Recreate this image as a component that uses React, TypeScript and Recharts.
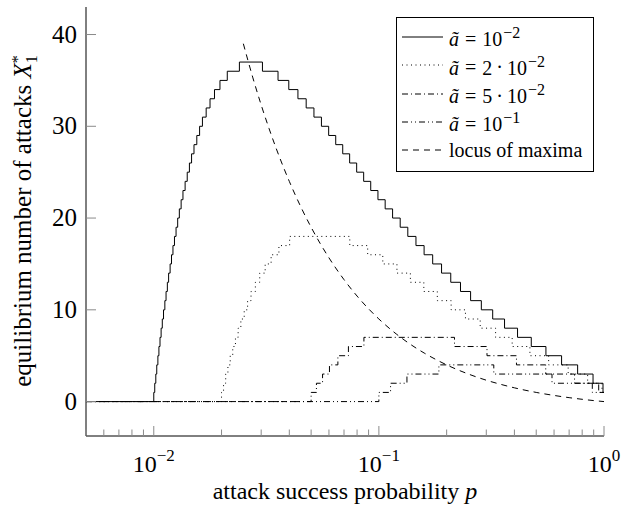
import { LineChart, Line, XAxis, YAxis } from 'recharts'

// ã = 10^-2 : breakpoints (p where X* takes the new value)
const P_A1 = [
  0.005, 0.01, 0.0101, 0.01021, 0.01031, 0.01043, 0.01054, 0.01066, 0.01078, 0.01091, 0.01105,
  0.0112, 0.01134, 0.01149, 0.01164, 0.01182, 0.01199, 0.01217, 0.01236, 0.01256, 0.01277,
  0.01299, 0.01323, 0.01348, 0.01378, 0.01408, 0.0144, 0.01472, 0.01509, 0.01553, 0.01598,
  0.01645, 0.01709, 0.01778, 0.01861, 0.01968, 0.02121, 0.02401,
  0.03039, 0.03564, 0.03979, 0.04369, 0.04754, 0.05147, 0.05556, 0.05983, 0.06431, 0.06908,
  0.07416, 0.07967, 0.08559, 0.092, 0.09905, 0.10663, 0.11505, 0.12436, 0.13442, 0.14611,
  0.1588, 0.17336, 0.18985, 0.20859, 0.23041, 0.25553, 0.28517, 0.32032, 0.36155, 0.41298,
  0.47524, 0.55213, 0.64799, 0.76362, 0.894, 0.9899, 1,
]
const X_A1 = [
  0, 1, 2, 3, 4, 5, 6, 7, 8, 9, 10,
  11, 12, 13, 14, 15, 16, 17, 18, 19, 20,
  21, 22, 23, 24, 25, 26, 27, 28, 29, 30,
  31, 32, 33, 34, 35, 36, 37,
  36, 35, 34, 33, 32, 31, 30, 29, 28, 27,
  26, 25, 24, 23, 22, 21, 20, 19, 18, 17,
  16, 15, 14, 13, 12, 11, 10, 9, 8, 7,
  6, 5, 4, 3, 2, 1, 1,
]

// ã = 2·10^-2
const P_A2 = [
  0.005, 0.02, 0.02042, 0.02087, 0.02135, 0.02186, 0.02243, 0.02306, 0.0237, 0.02437, 0.02522,
  0.02611, 0.02704, 0.02827, 0.02956, 0.03125, 0.03321, 0.03597, 0.04014,
  0.07426, 0.08917, 0.10407, 0.12029, 0.138, 0.15834, 0.18178, 0.20943, 0.24239, 0.28186,
  0.32999, 0.39096, 0.46867, 0.56765, 0.69325, 0.846, 0.9796, 1,
]
const X_A2 = [
  0, 1, 2, 3, 4, 5, 6, 7, 8, 9, 10,
  11, 12, 13, 14, 15, 16, 17, 18,
  17, 16, 15, 14, 13, 12, 11, 10, 9, 8,
  7, 6, 5, 4, 3, 2, 1, 1,
]

// ã = 5·10^-2
const P_A5 = [0.005, 0.05, 0.05279, 0.05621, 0.06032, 0.06575, 0.07322, 0.0858, 0.21669, 0.30218, 0.40846, 0.551, 0.74, 0.9472, 1]
const X_A5 = [0, 1, 2, 3, 4, 5, 6, 7, 6, 5, 4, 3, 2, 1, 1]

// ã = 10^-1
const P_A10 = [0.005, 0.1, 0.1127, 0.13325, 0.18472, 0.32389, 0.5875, 0.8873, 1]
const X_A10 = [0, 1, 2, 3, 4, 3, 2, 1, 1]

// locus of maxima
const LOCUS_P = [
  0.025, 0.0275, 0.03, 0.0325, 0.035, 0.04, 0.045, 0.05, 0.055, 0.06, 0.07, 0.08, 0.09, 0.1,
  0.12, 0.14, 0.16, 0.18, 0.2, 0.25, 0.3, 0.35, 0.4, 0.5, 0.6, 0.7, 0.8, 0.9, 1,
]
const LOCUS_X = [
  39, 35.36, 32.33, 29.77, 27.57, 24, 21.22, 19, 17.18, 15.67, 13.29, 11.5, 10.11, 9,
  7.33, 6.14, 5.25, 4.56, 4, 3, 2.33, 1.86, 1.5, 1, 0.67, 0.43, 0.25, 0.11, 0,
]

const X_MAJOR = [0.01, 0.1, 1]
const X_MAJOR_EXP = ['−2', '−1', '0']
const X_MINOR = [
  0.005, 0.006, 0.007, 0.008, 0.009,
  0.02, 0.03, 0.04, 0.05, 0.06, 0.07, 0.08, 0.09,
  0.2, 0.3, 0.4, 0.5, 0.6, 0.7, 0.8, 0.9,
]
const Y_TICKS = [0, 10, 20, 30, 40]

const X_TICKS = [...X_MINOR, ...X_MAJOR].sort((a, b) => a - b)
const FONT = '"Liberation Serif", "Times New Roman", serif'
const TICK_COLOR = '#8a8a8a'

const zip = (ps: number[], xs: number[]) => ps.map((p, i) => ({ p, x: xs[i] }))

// math-ish legend pieces
const Eq = () => <span style={{ margin: '0 6px' }}>=</span>
const Dot = () => <span style={{ margin: '0 4px' }}>·</span>
const Sup = ({ children }: { children: string }) => (
  <sup style={{ fontSize: 16, marginLeft: 1 }}>{children}</sup>
)

const SERIES = [
  { id: 'a1', data: zip(P_A1, X_A1), dash: undefined, curve: 'stepAfter',
    label: <><i>ã</i><Eq />10<Sup>−2</Sup></> },
  { id: 'a2', data: zip(P_A2, X_A2), dash: '1 3.5', curve: 'stepAfter',
    label: <><i>ã</i><Eq />2<Dot />10<Sup>−2</Sup></> },
  { id: 'a5', data: zip(P_A5, X_A5), dash: '6 3 1 3', curve: 'stepAfter',
    label: <><i>ã</i><Eq />5<Dot />10<Sup>−2</Sup></> },
  { id: 'a10', data: zip(P_A10, X_A10), dash: '6 3 1 3 1 3', curve: 'stepAfter',
    label: <><i>ã</i><Eq />10<Sup>−1</Sup></> },
  { id: 'locus', data: zip(LOCUS_P, LOCUS_X), dash: '6 5', curve: 'monotone',
    label: <>locus of maxima</> },
]

function BottomTick(props: any) {
  const { x, y, payload } = props
  const i = X_MAJOR.indexOf(payload.value)
  const major = i >= 0
  return (
    <g>
      <line x1={x} x2={x} y1={y} y2={y - (major ? 10 : 6.5)} stroke={TICK_COLOR} />
      {major && (
        <text x={x} y={y + 36} textAnchor="middle" fontFamily={FONT} fontSize={24} fill="#000">
          10<tspan dy={-11} fontSize={17}>{X_MAJOR_EXP[i]}</tspan>
        </text>
      )}
    </g>
  )
}

function TopTick(props: any) {
  const { x, y, payload } = props
  const major = X_MAJOR.includes(payload.value)
  return <line x1={x} x2={x} y1={y} y2={y + (major ? 10 : 6.5)} stroke={TICK_COLOR} />
}

function LeftTick(props: any) {
  const { x, y, payload } = props
  return (
    <g>
      <line x1={x} x2={x + 10} y1={y} y2={y} stroke={TICK_COLOR} />
      <text x={x - 9} y={y + 8} textAnchor="end" fontFamily={FONT} fontSize={25} fill="#000">
        {payload.value}
      </text>
    </g>
  )
}

function RightTick(props: any) {
  const { x, y } = props
  return <line x1={x} x2={x - 10} y1={y} y2={y} stroke={TICK_COLOR} />
}

export default function App() {
  return (
    <div style={{ position: 'fixed', left: 0, top: 0, width: 623, height: 512, background: '#fff' }}>
      <LineChart width={623} height={512} margin={{ top: 7, right: 19, bottom: 36, left: 6 }}>
        <XAxis
          xAxisId="bottom"
          dataKey="p"
          type="number"
          scale="log"
          domain={[0.005, 1]}
          allowDataOverflow
          ticks={X_TICKS}
          interval={0}
          height={40}
          tickSize={0}
          tickMargin={0}
          tickLine={false}
          tick={<BottomTick />}
          axisLine={{ stroke: '#000' }}
        />
        <XAxis
          xAxisId="top"
          orientation="top"
          dataKey="p"
          type="number"
          scale="log"
          domain={[0.005, 1]}
          allowDataOverflow
          ticks={X_TICKS}
          interval={0}
          height={0}
          tickSize={0}
          tickMargin={0}
          tickLine={false}
          tick={<TopTick />}
          axisLine={{ stroke: '#000' }}
        />
        <YAxis
          yAxisId="left"
          type="number"
          domain={[-3.75, 43]}
          allowDataOverflow
          ticks={Y_TICKS}
          interval={0}
          width={80}
          tickSize={0}
          tickMargin={0}
          tickLine={false}
          tick={<LeftTick />}
          axisLine={{ stroke: '#000' }}
        />
        <YAxis
          yAxisId="right"
          orientation="right"
          type="number"
          domain={[-3.75, 43]}
          allowDataOverflow
          ticks={Y_TICKS}
          interval={0}
          width={0}
          tickSize={0}
          tickMargin={0}
          tickLine={false}
          tick={<RightTick />}
          axisLine={{ stroke: '#000' }}
        />
        {SERIES.map((s) => (
          <Line
            key={s.id}
            xAxisId="bottom"
            yAxisId="left"
            data={s.data}
            dataKey="x"
            type={s.curve as any}
            stroke="#000"
            strokeWidth={1}
            strokeDasharray={s.dash}
            dot={false}
            activeDot={false}
            isAnimationActive={false}
          />
        ))}
      </LineChart>

      {/* legend */}
      <div
        style={{
          position: 'absolute', left: 396, top: 17, width: 198, height: 155, boxSizing: 'border-box',
          border: '1px solid #000', background: '#fff', paddingTop: 5, fontFamily: FONT, fontSize: 20,
        }}
      >
        {SERIES.map((s) => (
          <div key={s.id} style={{ height: 28.33, display: 'flex', alignItems: 'center', paddingLeft: 5 }}>
            <svg width={41} height={10} style={{ marginRight: 6, flex: 'none' }}>
              <line x1={0} x2={41} y1={5} y2={5} stroke="#000" strokeWidth={1} strokeDasharray={s.dash} />
            </svg>
            <span style={{ whiteSpace: 'nowrap', lineHeight: 1 }}>{s.label}</span>
          </div>
        ))}
      </div>

      {/* axis titles */}
      <div
        style={{
          position: 'absolute', left: 145, top: 479, width: 400, lineHeight: '24px', textAlign: 'center',
          fontFamily: FONT, fontSize: 24,
        }}
      >
        attack success probability <i>p</i>
      </div>
      <div
        style={{
          position: 'absolute', left: 23 - 200, top: 221 - 14, width: 400, height: 28, lineHeight: '28px',
          textAlign: 'center', transform: 'rotate(-90deg)', fontFamily: FONT, fontSize: 25, whiteSpace: 'nowrap',
        }}
      >
        equilibrium number of attacks <i>X</i>
        <span style={{ display: 'inline-block', verticalAlign: '-0.35em', lineHeight: 0.85, fontSize: 16, textAlign: 'left' }}>
          <span style={{ display: 'block' }}>*</span>
          <span style={{ display: 'block' }}>1</span>
        </span>
      </div>
    </div>
  )
}
